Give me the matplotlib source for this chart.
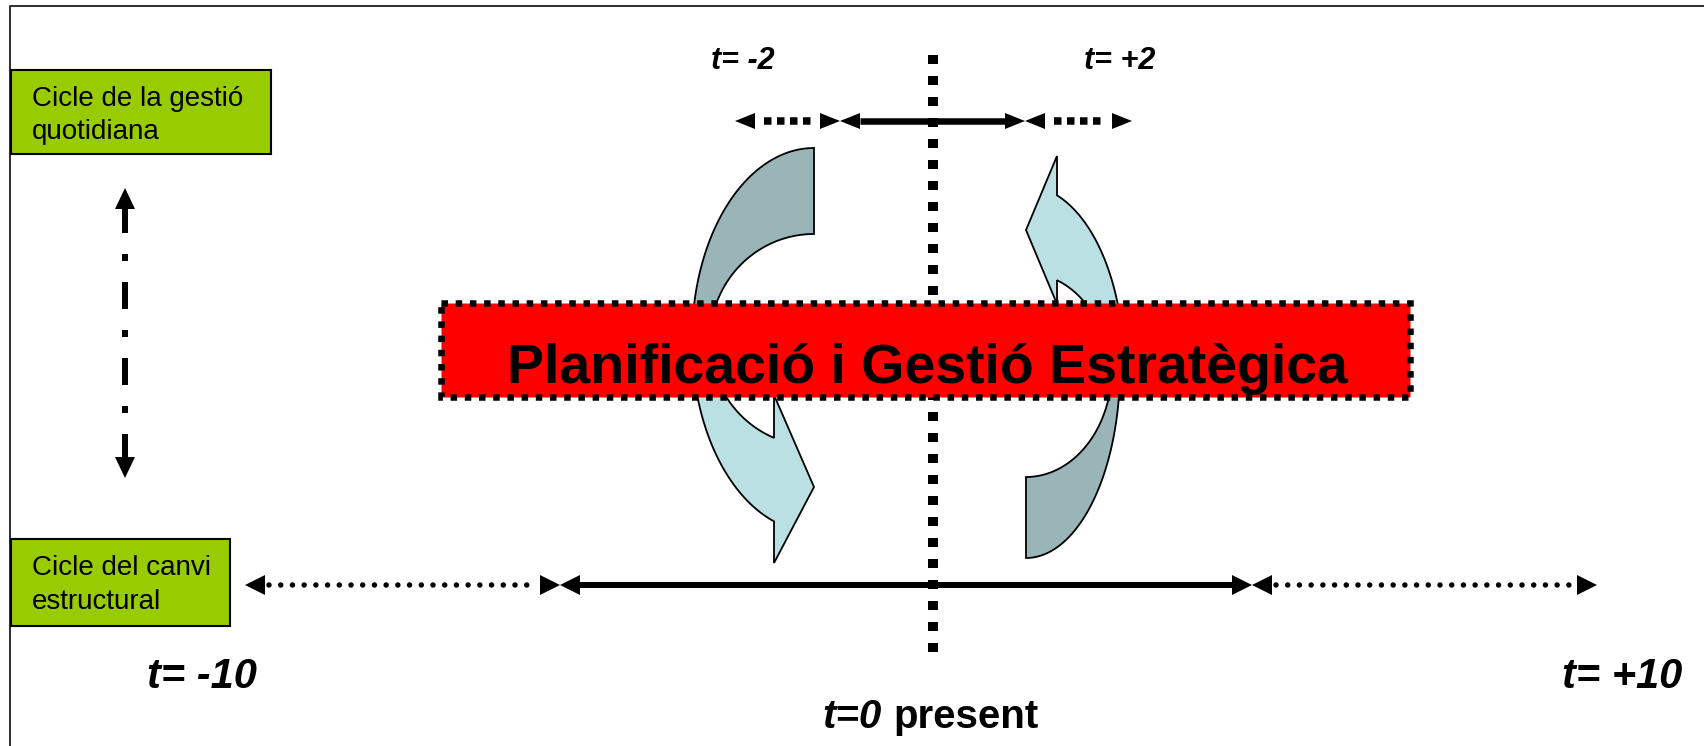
import numpy as np
import matplotlib
matplotlib.use("Agg")
import matplotlib.pyplot as plt
from matplotlib.patches import Polygon, Rectangle

plt.rcParams['font.family'] = ['Liberation Sans', 'DejaVu Sans']
plt.rcParams['lines.scale_dashes'] = False

# texts of the diagram
cycle_top = ["Cicle de la gestió", "quotidiana"]
cycle_bottom = ["Cicle del canvi", "estructural"]
short_labels = ["t= -2", "t= +2"]
long_labels = ["t= -10", "t= +10"]
present_label = ["t=0", "present"]
title = "Planificació i Gestió Estratègica"

# horizon breakpoints (pixel x) : dotted | solid | dotted
short_axis = [735, 840, 1025, 1132]
long_axis = [245, 560, 1252, 1597]

PX = 0.72  # points per pixel at dpi 100
GREEN = '#99CC00'
DARK = '#99B5B8'
LIGHT = '#BAE0E4'

fig = plt.figure(figsize=(17.04, 7.46), dpi=100)
ax = fig.add_axes([0, 0, 1, 1])
ax.set_xlim(0, 1704)
ax.set_ylim(746, 0)
ax.axis('off')


# filled triangle head, tip at (x, y), pointing along direction
def head(x, y, dx, dy, length, half):
    bx, by = x - dx * length, y - dy * length
    px, py = -dy, dx
    pts = [(x, y), (bx + px * half, by + py * half), (bx - px * half, by - py * half)]
    ax.add_patch(Polygon(pts, closed=True, fc='k', ec='none', zorder=5))


# one time axis: dotted, solid, dotted, each with heads at both ends
def time_axis(xs, y, lw, dotted, length, half, pad):
    for i in range(len(xs) - 1):
        x0, x1 = xs[i], xs[i + 1]
        head(x0, y, -1, 0, length, half)
        head(x1, y, 1, 0, length, half)
        if i == 1:
            ax.plot([x0 + length, x1 - length], [y, y], color='k', lw=lw * PX,
                    solid_capstyle='butt', zorder=5)
        else:
            ax.plot([x0 + length + pad, x1 - length - pad], [y, y], color='k', lw=dotted[0] * PX,
                    linestyle=(0, dotted[1]), dash_capstyle=dotted[2], zorder=5)


def arc(cx, cy, rx, ry, t0, t1, n=120):
    t = np.linspace(np.radians(t0), np.radians(t1), n)
    return np.column_stack([cx + rx * np.cos(t), cy - ry * np.sin(t)])


# frame
ax.plot([10, 10, 1704], [746, 6, 6], color='#333333', lw=2 * PX, zorder=1)

# green cycle boxes
ax.add_patch(Rectangle((11, 70), 260, 84, fc=GREEN, ec='k', lw=1.5, zorder=2))
ax.add_patch(Rectangle((11, 539), 219, 87, fc=GREEN, ec='k', lw=1.5, zorder=2))
for txt, yb in zip(cycle_top, [106, 139]):
    ax.text(32, yb, txt, fontsize=20, va='baseline', ha='left', zorder=3)
for txt, yb in zip(cycle_bottom, [575, 609]):
    ax.text(32, yb, txt, fontsize=20, va='baseline', ha='left', zorder=3)

# dash-dot vertical arrow between cycles
head(125, 188, 0, -1, 21, 10)
head(125, 478, 0, 1, 21, 10)
ax.plot([125, 125], [209, 457], color='k', lw=6 * PX, zorder=5,
        linestyle=(3 * PX, (27 * PX, 21 * PX, 7 * PX, 21 * PX)), dash_capstyle='butt')

# time axes
time_axis(short_axis, 121, 6.5, (7.5, (7.5 * PX, 5.5 * PX), 'butt'), 20, 8, 9)
time_axis(long_axis, 585, 6, (5.5, (0.01, 11.7 * PX), 'round'), 20, 10, 4)

# present line
ax.plot([933, 933], [55, 653], color='k', lw=10 * PX, zorder=2,
        linestyle=(0, (9 * PX, 12 * PX)), dash_capstyle='butt')

# circular arrows, left side
lcx, lcy = 814, 340
pts = np.vstack([arc(lcx, lcy, 122, 192, 90, 190), arc(lcx, lcy, 104, 106, 190, 90)])
ax.add_patch(Polygon(pts, closed=True, fc=DARK, ec='k', lw=1.3, zorder=2))
to = 360 - np.degrees(np.arccos((774 - lcx) / 122))
ti = 360 - np.degrees(np.arccos((774 - lcx) / 104))
pts = np.vstack([arc(lcx, lcy, 122, 192, 175, to),
                 [(774, 563), (814, 487), (774, 395)],
                 arc(lcx, lcy, 104, 106, ti, 175)])
ax.add_patch(Polygon(pts, closed=True, fc=LIGHT, ec='k', lw=1.3, zorder=2))

# circular arrows, right side
rcx, rcy = 1026, 368
pts = np.vstack([arc(rcx, rcy, 94, 190, 270, 375), arc(rcx, rcy, 86, 109, 375, 270)])
ax.add_patch(Polygon(pts, closed=True, fc=DARK, ec='k', lw=1.3, zorder=2))
to = np.degrees(np.arccos((1057 - rcx) / 98))
ti = np.degrees(np.arccos((1057 - rcx) / 81))
pts = np.vstack([arc(rcx, rcy, 98, 182, -3, to),
                 [(1057, 156), (1026, 230), (1057, 304)],
                 arc(rcx, rcy, 81, 95, ti, -3)])
ax.add_patch(Polygon(pts, closed=True, fc=LIGHT, ec='k', lw=1.3, zorder=2))

# red banner
ax.add_patch(Rectangle((441, 303), 969, 94, fc='#FF0000', ec='k', lw=6.5 * PX,
                       linestyle=(0, (6.5 * PX, 7.7 * PX)), zorder=6))
ax.text(927, 383, title, fontsize=40, fontweight='bold', ha='center', va='baseline', zorder=7)

# time labels
ax.text(711, 69, short_labels[0], fontsize=22, fontweight='bold', fontstyle='italic',
        ha='left', va='baseline')
ax.text(1084, 69, short_labels[1], fontsize=22, fontweight='bold', fontstyle='italic',
        ha='left', va='baseline')
ax.text(147, 688, long_labels[0], fontsize=30, fontweight='bold', fontstyle='italic',
        ha='left', va='baseline')
ax.text(1562, 688, long_labels[1], fontsize=30, fontweight='bold', fontstyle='italic',
        ha='left', va='baseline')
ax.text(882, 728, present_label[0], fontsize=29, fontweight='bold', fontstyle='italic',
        ha='right', va='baseline')
ax.text(893, 728, present_label[1], fontsize=29, fontweight='bold',
        ha='left', va='baseline')

fig.savefig('out.png', dpi=100)
